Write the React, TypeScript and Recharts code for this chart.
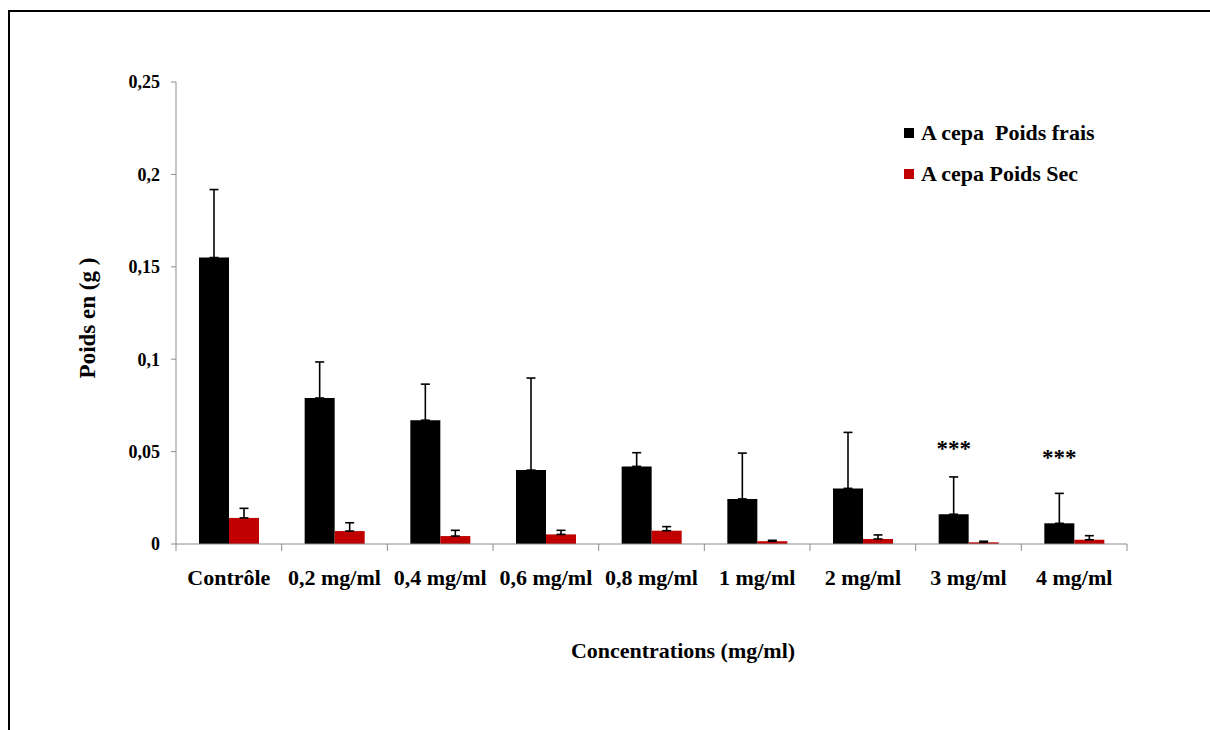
import React from "react";
import {
  BarChart,
  Bar,
  XAxis,
  YAxis,
  ErrorBar,
  LabelList,
  Legend,
} from "recharts";

const categories = [
  "Contrôle",
  "0,2 mg/ml",
  "0,4 mg/ml",
  "0,6 mg/ml",
  "0,8 mg/ml",
  "1 mg/ml",
  "2 mg/ml",
  "3 mg/ml",
  "4 mg/ml",
];

// A. cepa, fresh weight (g) and its upper error
const poidsFrais = [0.155, 0.079, 0.067, 0.04, 0.042, 0.0244, 0.0301, 0.0161, 0.0112];
const poidsFraisErr = [0.0368, 0.0195, 0.0195, 0.0498, 0.0074, 0.0248, 0.0303, 0.0202, 0.0162];

// A. cepa, dry weight (g) and its upper error
const poidsSec = [0.0141, 0.007, 0.0043, 0.0052, 0.0072, 0.0015, 0.0027, 0.0009, 0.0023];
const poidsSecErr = [0.0052, 0.0045, 0.0031, 0.0022, 0.0022, 0.0005, 0.0022, 0.0006, 0.0022];

const significance = ["", "", "", "", "", "", "", "***", "***"];

const yTicks = [0, 0.05, 0.1, 0.15, 0.2, 0.25];

const seriesNames = ["A cepa  Poids frais", "A cepa Poids Sec"];
const seriesColors = ["#000000", "#C00000"];

const FONT = "'Liberation Serif', 'Times New Roman', serif";
const AXIS_COLOR = "#8c8c8c";

const CHART_W = 1190;
const CHART_H = 700;
const MARGIN = { top: 70, right: 73, left: 76, bottom: 88 };
const Y_AXIS_W = 90;
const X_AXIS_H = 80;
const PLOT_W = CHART_W - MARGIN.left - MARGIN.right - Y_AXIS_W;

const chartData = categories.map((name, i) => ({
  name,
  frais: poidsFrais[i],
  sec: poidsSec[i],
  fraisErr: [0, poidsFraisErr[i]],
  secErr: [0, poidsSecErr[i]],
  sig: significance[i],
}));

const CategoryTick = (props: any) => {
  const { x, y, payload, index } = props;
  const step = PLOT_W / categories.length;
  const axisY = y - 6;
  return (
    <g>
      <line x1={x - step / 2} x2={x - step / 2} y1={axisY} y2={axisY + 7} stroke={AXIS_COLOR} />
      {index === categories.length - 1 && (
        <line x1={x + step / 2} x2={x + step / 2} y1={axisY} y2={axisY + 7} stroke={AXIS_COLOR} />
      )}
      <text
        x={x}
        y={axisY + 41}
        textAnchor="middle"
        fontFamily={FONT}
        fontWeight="bold"
        fontSize={22}
        fill="#000"
      >
        {payload.value}
      </text>
    </g>
  );
};

const renderSig = (props: any) => {
  const { x, y, width, value } = props;
  if (!value) return null;
  return (
    <text
      x={x + width / 2}
      y={y - 58}
      textAnchor="middle"
      fontFamily={FONT}
      fontWeight="bold"
      fontSize={23}
      fill="#000"
    >
      {value}
    </text>
  );
};

const LegendBox = () => (
  <div style={{ fontFamily: FONT, fontWeight: "bold", fontSize: 22, color: "#000" }}>
    {seriesNames.map((n, i) => (
      <div key={n} style={{ display: "flex", alignItems: "center", height: 41 }}>
        <span
          style={{
            display: "inline-block",
            width: 10,
            height: 10,
            background: seriesColors[i],
            marginRight: 7,
          }}
        />
        <span style={{ whiteSpace: "pre" }}>{n}</span>
      </div>
    ))}
  </div>
);

export default function App() {
  return (
    <>
      <style>{"html,body{overflow:hidden}"}</style>
      <div
        style={{
          position: "absolute",
          left: 8,
          top: 10,
          width: 1220,
          height: 740,
          border: "2px solid #000",
          boxSizing: "border-box",
          background: "#fff",
        }}
      >
        <div style={{ position: "absolute", left: 0, top: 0 }}>
          <BarChart
            width={CHART_W}
            height={CHART_H}
            data={chartData}
            margin={MARGIN}
            barGap={0}
            barSize={30}
          >
            <XAxis
              dataKey="name"
              interval={0}
              height={X_AXIS_H}
              stroke={AXIS_COLOR}
              tickLine={false}
              tickSize={6}
              tickMargin={0}
              tick={<CategoryTick />}
            />
            <YAxis
              width={Y_AXIS_W}
              domain={[0, 0.25]}
              ticks={yTicks}
              stroke={AXIS_COLOR}
              tickSize={5}
              tickMargin={11}
              tick={{ fill: "#000", fontFamily: FONT, fontWeight: "bold", fontSize: 18 }}
              tickFormatter={(v: number) => String(v).replace(".", ",")}
            />
            <Legend
              layout="vertical"
              align="center"
              verticalAlign="middle"
              content={<LegendBox />}
              wrapperStyle={{ left: 894, top: 100, width: 280 }}
            />
            <Bar dataKey="frais" name={seriesNames[0]} fill={seriesColors[0]} isAnimationActive={false}>
              <ErrorBar dataKey="fraisErr" direction="y" width={4.5} stroke="#000" strokeWidth={1.6} />
              <LabelList dataKey="sig" content={renderSig} />
            </Bar>
            <Bar dataKey="sec" name={seriesNames[1]} fill={seriesColors[1]} isAnimationActive={false}>
              <ErrorBar dataKey="secErr" direction="y" width={4.5} stroke="#000" strokeWidth={1.6} />
            </Bar>
          </BarChart>
        </div>
        <div
          style={{
            position: "absolute",
            left: 88 - 10,
            top: 318 - 12,
            width: 0,
            height: 0,
          }}
        >
          <div
            style={{
              position: "absolute",
              transform: "translate(-50%, -50%) rotate(-90deg)",
              whiteSpace: "pre",
              fontFamily: FONT,
              fontWeight: "bold",
              fontSize: 23,
              lineHeight: "26px",
            }}
          >
            Poids en (g )
          </div>
        </div>
        <div
          style={{
            position: "absolute",
            left: 683 - 10,
            top: 651 - 12,
            transform: "translate(-50%, -50%)",
            whiteSpace: "pre",
            fontFamily: FONT,
            fontWeight: "bold",
            fontSize: 22,
          }}
        >
          Concentrations (mg/ml)
        </div>
      </div>
    </>
  );
}
